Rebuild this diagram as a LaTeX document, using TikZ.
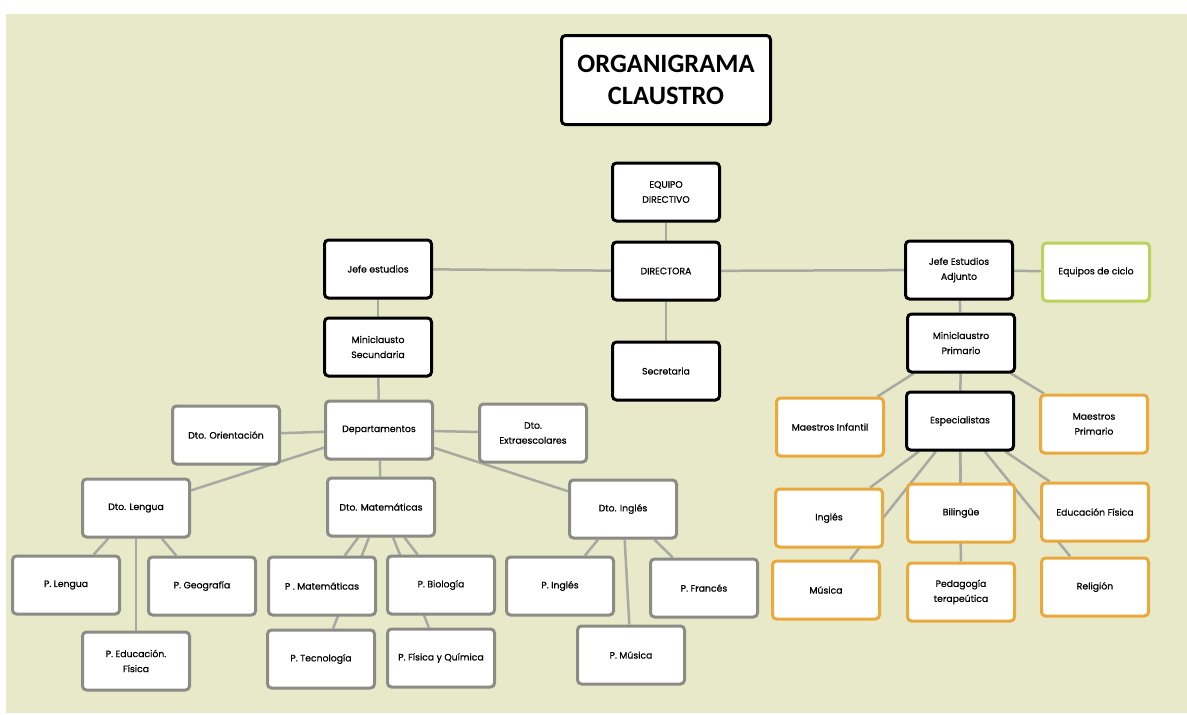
\documentclass[tikz,border=0pt]{standalone}
\usepackage{fontspec}
\setmainfont{Poppins}
\newfontfamily\cajafont{Poppins}[FakeBold=0.6]
\newfontfamily\titlefont{Carlito}
\usepackage{tikz}
\usetikzlibrary{positioning}

\definecolor{fondo}{RGB}{231,233,201}
\definecolor{lineagris}{RGB}{168,169,160}
\definecolor{gris}{RGB}{140,140,134}
\definecolor{naranja}{RGB}{233,169,60}
\definecolor{verde}{RGB}{188,211,91}

\pgfdeclarelayer{capafondo}
\pgfdeclarelayer{capalineas}
\pgfsetlayers{capafondo,capalineas,main}

\begin{document}
\begin{tikzpicture}[x=1pt, y=-1pt,
    caja/.style={draw=black, line width=3pt, rounded corners=4pt, fill=white,
        minimum width=107pt, minimum height=58pt, align=center, inner sep=2pt,
        font=\cajafont\fontsize{9.3}{15}\selectfont},
    cajagris/.style={caja, draw=gris},
    cajanaranja/.style={caja, draw=naranja},
    cajaverde/.style={caja, draw=verde},
    linea/.style={draw=lineagris, line width=2.5pt}]

    % marco y fondo
    \useasboundingbox (0,0) rectangle (1187,715);
    \begin{pgfonlayer}{capafondo}
        \fill[white] (0,0) rectangle (1187,715);
        \fill[fondo] (6,14) rectangle (1187,713);
    \end{pgfonlayer}

    % titulo
    \node[caja, minimum width=209pt, minimum height=89pt,
        font=\titlefont\bfseries\fontsize{26.5}{32}\selectfont] (titulo) at (666,80) {ORGANIGRAMA\\CLAUSTRO};

    % direccion
    \node[caja] (equipo) at (666,192) {EQUIPO\\DIRECTIVO};
    \node[caja] (directora) at (666,271) {DIRECTORA};
    \node[caja] (secretaria) at (666,371) {Secretaria};
    \node[caja] (jefe) at (378,269) {Jefe estudios};
    \node[caja] (minisec) at (378,347) {Miniclausto\\Secundaria};
    \node[caja] (adjunto) at (959,270) {Jefe Estudios\\Adjunto};
    \node[cajaverde] (ciclo) at (1096,272) {Equipos de ciclo};

    % primaria
    \node[caja] (miniprim) at (961,343) {Miniclaustro\\Primario};
    \node[caja] (espec) at (960,421) {Especialistas};
    \node[cajanaranja] (minf) at (830,427) {Maestros Infantil};
    \node[cajanaranja] (mprim) at (1094,424) {Maestros\\Primario};
    \node[cajanaranja] (ingles) at (829,518) {Inglés};
    \node[cajanaranja] (bilingue) at (961,513) {Bilingüe};
    \node[cajanaranja] (efisica) at (1095,512) {Educación Física};
    \node[cajanaranja] (musica) at (826,590) {Música};
    \node[cajanaranja] (pedagogia) at (961,592) {Pedagogía\\terapeútica};
    \node[cajanaranja] (religion) at (1095,587) {Religión};

    % secundaria
    \node[cajagris] (deptos) at (379,430) {Departamentos};
    \node[cajagris] (orient) at (226,435) {Dto. Orientación};
    \node[cajagris] (extra) at (533,433) {Dto.\\Extraescolares};
    \node[cajagris] (lengua) at (136,508) {Dto. Lengua};
    \node[cajagris] (mates) at (381,507) {Dto. Matemáticas};
    \node[cajagris] (dingles) at (623,509) {Dto. Inglés};
    \node[cajagris] (plengua) at (66,585) {P. Lengua};
    \node[cajagris] (pgeo) at (202,586) {P. Geografía};
    \node[cajagris] (pedfis) at (136,661) {P. Educación.\\Física};
    \node[cajagris] (pmates) at (322,586) {P . Matemáticas};
    \node[cajagris] (pbio) at (441,585) {P. Biología};
    \node[cajagris] (ptec) at (321,659) {P. Tecnología};
    \node[cajagris] (pfq) at (441,658) {P. Física y Química};
    \node[cajagris] (pingles) at (560,586) {P. Inglés};
    \node[cajagris] (pfrances) at (704,588) {P. Francés};
    \node[cajagris] (pmusica) at (631,655) {P. Música};

    % conexiones (detras de las cajas)
    \begin{pgfonlayer}{capalineas}
        \foreach \a/\b in {equipo/directora, directora/secretaria, directora/jefe,
            directora/adjunto, adjunto/ciclo, adjunto/miniprim,
            miniprim/minf, miniprim/espec, miniprim/mprim,
            espec/ingles, espec/musica, espec/bilingue, espec/pedagogia,
            espec/efisica, espec/religion,
            jefe/minisec, minisec/deptos, deptos/orient, deptos/extra,
            deptos/lengua, deptos/mates, deptos/dingles,
            lengua/plengua, lengua/pgeo, lengua/pedfis,
            mates/pmates, mates/ptec, mates/pbio, mates/pfq,
            dingles/pingles, dingles/pfrances, dingles/pmusica}
            \draw[linea] (\a) -- (\b);
    \end{pgfonlayer}

\end{tikzpicture}
\end{document}
